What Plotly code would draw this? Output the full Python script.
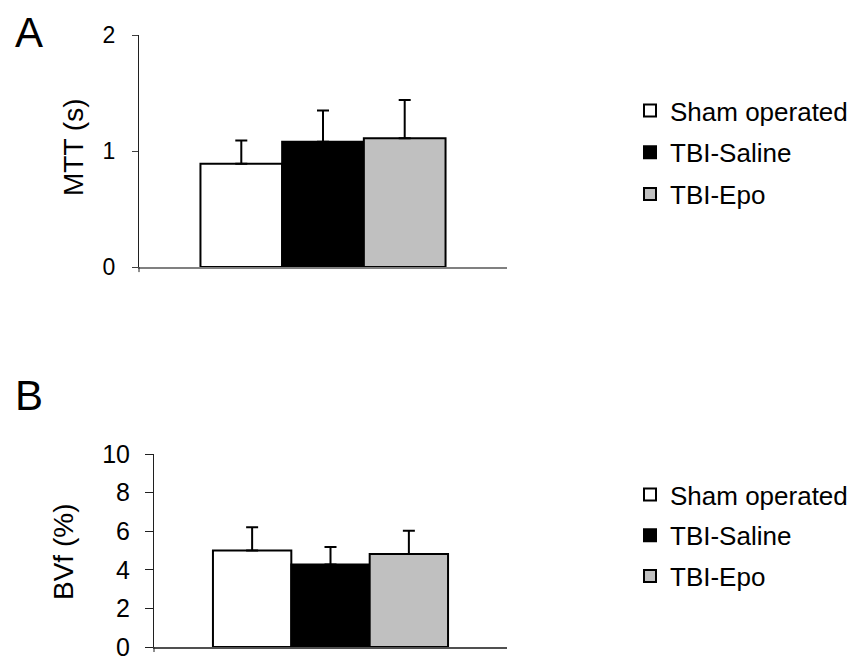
import plotly.graph_objects as go

groups = ["Sham operated", "TBI-Saline", "TBI-Epo"]
colors = ["#ffffff", "#000000", "#c0c0c0"]

mtt_mean = [0.89, 1.08, 1.11]
mtt_err = [0.20, 0.27, 0.33]

bvf_mean = [5.0, 4.28, 4.82]
bvf_err = [1.2, 0.9, 1.2]

# the page body adds an 8px margin, so the figure is drawn 8px smaller and offset
OFF = 8
W, H = 865 - OFF, 660 - OFF
FONT = "Liberation Sans, Arial, sans-serif"

def px_x(p):
    return (p - OFF) / W

def px_y(p):
    return 1 - (p - OFF) / H

fig = go.Figure()

for i, g in enumerate(groups):
    fig.add_trace(go.Bar(
        x=[""], y=[mtt_mean[i]], name=g, legendgroup="a%d" % i,
        marker=dict(color=colors[i], line=dict(color="black", width=2)),
        error_y=dict(type="data", symmetric=False, array=[mtt_err[i]], arrayminus=[0],
                     color="black", thickness=2, width=6),
        xaxis="x", yaxis="y", legend="legend",
    ))
for i, g in enumerate(groups):
    fig.add_trace(go.Bar(
        x=[""], y=[bvf_mean[i]], name=g, legendgroup="b%d" % i,
        marker=dict(color=colors[i], line=dict(color="black", width=2)),
        error_y=dict(type="data", symmetric=False, array=[bvf_err[i]], arrayminus=[0],
                     color="black", thickness=2, width=6),
        xaxis="x2", yaxis="y2", legend="legend2",
    ))

fig.update_layout(
    template="none",
    width=W, height=H,
    margin=dict(l=0, r=0, t=0, b=0, pad=0, autoexpand=False),
    paper_bgcolor="white", plot_bgcolor="white",
    barmode="group", bargap=0.334, bargroupgap=0,
    font=dict(family=FONT, color="black"),
    xaxis=dict(domain=[px_x(139), px_x(507)], anchor="y", type="category",
               showticklabels=False, ticks="", showline=True, linecolor="#808080",
               linewidth=2, showgrid=False, zeroline=False, automargin=False),
    yaxis=dict(domain=[px_y(267), px_y(35)], anchor="x", range=[0, 2],
               tickvals=[0, 1, 2], ticks="outside", ticklen=6, tickcolor="#404040",
               tickwidth=1, showline=True, linecolor="#202020", linewidth=1,
               showgrid=False, zeroline=False, automargin=False,
               ticklabeloverflow="allow",
               tickfont=dict(family=FONT, size=23, color="black"), ticklabelstandoff=12),
    xaxis2=dict(domain=[px_x(154), px_x(507)], anchor="y2", type="category",
                showticklabels=False, ticks="", showline=True, linecolor="#505050",
                linewidth=1.5, showgrid=False, zeroline=False, automargin=False),
    yaxis2=dict(domain=[px_y(647), px_y(454)], anchor="x2", range=[0, 10],
                tickvals=[0, 2, 4, 6, 8, 10], ticks="outside", ticklen=8,
                tickcolor="#202020", tickwidth=1, showline=True, linecolor="#202020",
                linewidth=1, showgrid=False, zeroline=False, automargin=False,
                ticklabeloverflow="allow",
                tickfont=dict(family=FONT, size=25, color="black"), ticklabelstandoff=10),
    legend=dict(x=px_x(630), y=px_y(87), xanchor="left", yanchor="top",
                font=dict(family=FONT, size=26, color="black"),
                bgcolor="rgba(0,0,0,0)", tracegroupgap=5, itemclick=False),
    legend2=dict(x=px_x(630), y=px_y(471), xanchor="left", yanchor="top",
                 font=dict(family=FONT, size=26, color="black"),
                 bgcolor="rgba(0,0,0,0)", tracegroupgap=4, itemclick=False),
    showlegend=True,
)

annotations = [
    dict(text="MTT (s)", x=px_x(73), y=px_y(148), textangle=-90,
         font=dict(family=FONT, size=28, color="black")),
    dict(text="BVf (%)", x=px_x(63), y=px_y(552), textangle=-90,
         font=dict(family=FONT, size=28, color="black")),
    dict(text="A", x=px_x(29), y=px_y(32), font=dict(family=FONT, size=42, color="black")),
    dict(text="B", x=px_x(29), y=px_y(395), font=dict(family=FONT, size=42, color="black")),
]
for a in annotations:
    a.update(xref="paper", yref="paper", showarrow=False, xanchor="center", yanchor="middle")
fig.update_layout(annotations=annotations)

# small downward extension of the y axis below the baseline
fig.add_shape(type="line", xref="x domain", yref="y domain", x0=0, x1=0, y0=-0.022, y1=0,
              line=dict(color="#202020", width=1))
fig.add_shape(type="line", xref="x2 domain", yref="y2 domain", x0=0, x1=0, y0=-0.026, y1=0,
              line=dict(color="#202020", width=1))

fig.write_html("out.html")
